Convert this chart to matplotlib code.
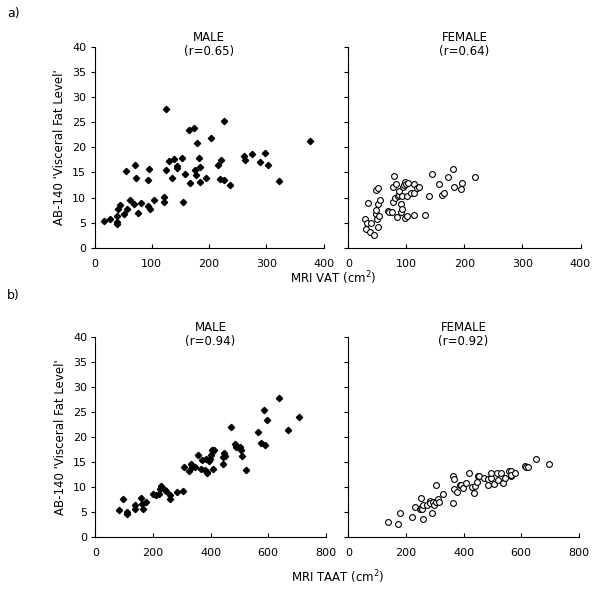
import matplotlib.pyplot as plt

# a) MRI VAT vs AB-140 - hommes
vat_m_x = [16.9, 26.2, 38.4, 38.4, 39.6, 40.2, 43.7, 51.2, 55.3, 55.9, 61.7, 68.1, 70.5, 72.2,
           76.3, 80.3, 92.6, 94.3, 93.2, 96.7, 103, 120.5, 120.5, 125.2, 125.2, 129.8, 134.5,
           138, 143.8, 144.4, 152.5, 154.9, 157.2, 164.2, 165.9, 173.5, 174.7, 176.4, 178.7,
           181.7, 184.6, 184, 194.5, 202.6, 215.4, 218.3, 221.3, 226.5, 226.5, 235.8, 261.4,
           262, 274.2, 288.2, 297.5, 302.2, 322.6, 376.1]
vat_m_y = [5.4, 5.7, 6.4, 5.2, 4.7, 7.7, 8.5, 6.7, 15.2, 7.8, 9.5, 8.7, 16.5, 14.0,
           7.0, 8.9, 8.4, 15.6, 13.6, 7.8, 9.6, 10.2, 9.1, 27.7, 15.4, 17.2, 14.0,
           17.6, 15.8, 16.2, 17.9, 9.1, 14.6, 23.4, 12.9, 23.8, 15.5, 14.5, 20.9,
           17.9, 16.0, 13.2, 14.0, 21.8, 16.4, 13.7, 17.5, 25.3, 13.5, 12.6, 18.3,
           17.4, 18.6, 17.0, 18.9, 16.4, 13.3, 21.3]

# a) femmes
vat_f_x = [29.3, 31.6, 29.9, 33.9, 37.9, 39.7, 44.8, 47.1, 51.1, 47.1, 48.3, 49.4, 50.6, 51.7,
           52.9, 55.2, 69, 70.7, 75.3, 76.4, 78.2, 77, 80.5, 81.6, 84.5, 85.1, 86.8, 87.9,
           90.2, 90.8, 92, 93.1, 94.8, 96.6, 98.3, 98.3, 99.4, 101.1, 101.7, 102.9, 108,
           113.2, 113.8, 113.8, 119, 121.8, 132.2, 139.1, 144.8, 155.7, 160.9, 164.9, 172.4,
           181, 182.8, 194.8, 196, 219]
vat_f_y = [5.8, 4.9, 3.8, 8.9, 3.1, 4.9, 2.6, 11.6, 11.9, 6.8, 7.5, 5.8, 4.1, 8.7,
           6.4, 9.6, 7.3, 7.1, 7.1, 12.1, 14.4, 9.1, 9.9, 12.8, 6.1, 10.3, 10.5, 11.3,
           8.7, 7.1, 10.3, 7.8, 12.2, 12.5, 13.2, 5.9, 12.7, 10.3, 6.4, 12.9, 10.9,
           12.7, 10.9, 6.6, 12.0, 12.1, 6.6, 10.4, 14.6, 12.7, 10.6, 10.9, 14.1,
           15.6, 12.2, 11.8, 13.0, 14.1]

# b) MRI TAAT vs AB-140 - hommes
taat_m_x = [82.3, 97.4, 109, 110.1, 138, 138, 157.7, 163.5, 164.6, 176.2, 199.4, 209.9, 219.1,
            222.6, 227.2, 242.3, 245.8, 259.7, 258.6, 282.9, 302.6, 307.2, 323.5, 331.6, 336.2,
            344.3, 354.8, 365.2, 371, 380.3, 382.6, 386.1, 388.4, 394.2, 398.8, 401.2, 404.6,
            408.1, 408.1, 412.8, 441.7, 442.9, 447.5, 449.9, 469.6, 485.8, 489.3, 502.0, 505.5,
            510.1, 524.1, 565.8, 573.9, 584.3, 589, 595.9, 638.8, 667.8, 707.2]
taat_m_y = [5.4, 7.6, 5.0, 4.6, 6.4, 5.6, 7.8, 6.7, 5.6, 7.0, 8.7, 8.5, 8.6,
            9.7, 10.2, 9.4, 9.2, 8.4, 7.6, 9.0, 9.2, 14.0, 13.2, 14.6, 14.0,
            14.0, 16.5, 13.7, 15.4, 13.5, 15.7, 13.0, 12.8, 15.3, 15.7, 16.4, 17.5,
            13.7, 17.2, 17.4, 14.6, 16.0, 16.9, 16.2, 21.9, 18.6, 18.1, 18.0, 17.5,
            16.3, 13.4, 20.9, 18.9, 25.3, 18.4, 23.4, 27.8, 21.4, 23.9]

# b) femmes
taat_f_x = [139.1, 173.9, 180.9, 222.6, 233, 250.4, 252.8, 253.9, 256.2, 258.6, 258.6, 272.5,
            282.9, 285.2, 292.2, 295.7, 299.1, 303.8, 306.1, 310.7, 316.5, 330.4, 362.8, 365.2,
            367.5, 367.5, 377.9, 388.4, 390.7, 398.8, 408.1, 419.7, 429.0, 437.1, 440.6, 445.2,
            449.9, 452.2, 470.7, 483.5, 485.8, 495.1, 495.1, 505.5, 515.9, 518.3, 528.7, 536.8,
            542.6, 558.8, 563.5, 565.8, 565.8, 578.6, 614.5, 616.8, 623.8, 650.4, 696.8]
taat_f_y = [3.1, 2.6, 4.9, 4.1, 6.1, 5.7, 7.8, 5.9, 5.7, 3.7, 6.4, 6.5,
            7.2, 6.8, 4.9, 7.1, 6.4, 7.0, 10.4, 7.6, 7.0, 8.6, 6.8, 12.2,
            11.6, 9.6, 9.0, 10.5, 10.4, 9.8, 10.8, 12.9, 10.0, 8.8, 10.2, 11.0,
            12.2, 12.2, 11.9, 11.6, 10.4, 11.8, 12.9, 10.6, 12.8, 11.4, 12.9, 10.9,
            11.8, 13.2, 12.3, 13.3, 12.4, 12.8, 14.2, 14.0, 14.1, 15.6, 14.6]

y_ticks = [0, 5, 10, 15, 20, 25, 30, 35, 40]

fig = plt.figure(figsize=(6, 5.96), dpi=100)
plt.rcParams['font.size'] = 8


def panel(rect, x, y, xmax, xstep, title, male):
    ax = fig.add_axes(rect)
    if male:
        ax.plot(x, y, 'D', color='black', markersize=3.2, linestyle='none')
    else:
        ax.plot(x, y, 'o', markerfacecolor='white', markeredgecolor='black',
                markersize=4.2, markeredgewidth=0.8, linestyle='none')
    ax.set_xlim(0, xmax)
    ax.set_ylim(0, 40)
    ax.set_xticks(range(0, xmax + 1, xstep))
    ax.set_yticks(y_ticks)
    ax.spines['top'].set_visible(False)
    ax.spines['right'].set_visible(False)
    ax.tick_params(axis='x', direction='in', length=3, pad=8)
    ax.tick_params(axis='y', direction='out', length=3, pad=3)
    ax.text(0.5, 1.08, title, transform=ax.transAxes, ha='center', va='top',
            fontsize=8.5, linespacing=1.1)
    return ax


ax1 = panel([0.1575, 0.584, 0.382, 0.3376], vat_m_x, vat_m_y, 400, 100, 'MALE\n(r=0.65)', True)
ax2 = panel([0.5805, 0.584, 0.387, 0.3376], vat_f_x, vat_f_y, 400, 100, 'FEMALE\n(r=0.64)', False)
ax3 = panel([0.159, 0.0985, 0.384, 0.3366], taat_m_x, taat_m_y, 800, 200, 'MALE\n(r=0.94)', True)
ax4 = panel([0.5805, 0.0985, 0.384, 0.3366], taat_f_x, taat_f_y, 800, 200, 'FEMALE\n(r=0.92)', False)

ax2.set_yticklabels([])
ax4.set_yticklabels([])

ax1.set_ylabel("AB-140 'Visceral Fat Level'", fontsize=8.5, labelpad=4)
ax3.set_ylabel("AB-140 'Visceral Fat Level'", fontsize=8.5, labelpad=4)

fig.text(0.555, 1 - 278 / 596, 'MRI VAT (cm$^2$)', ha='center', va='center', fontsize=8.5)
fig.text(0.563, 1 - 577 / 596, 'MRI TAAT (cm$^2$)', ha='center', va='center', fontsize=8.5)
fig.text(0.012, 1 - 14 / 596, 'a)', ha='left', va='center', fontsize=9)
fig.text(0.012, 1 - 296 / 596, 'b)', ha='left', va='center', fontsize=9)

plt.savefig('out.png', dpi=100)
